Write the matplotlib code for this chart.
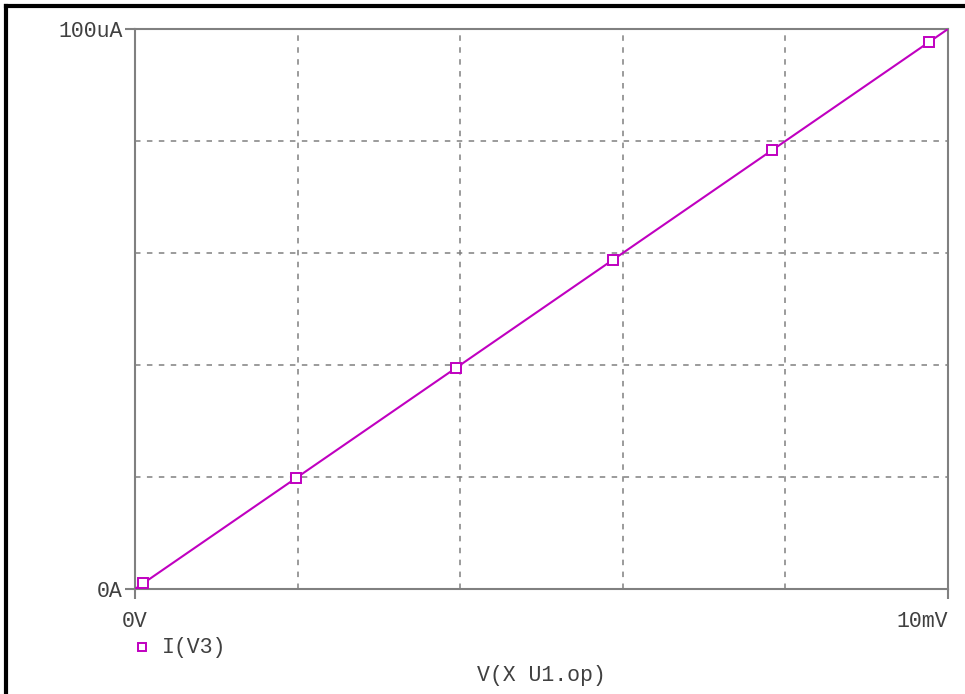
"""PSpice-style DC sweep: I(V3) against V(X U1.op)."""

import matplotlib

matplotlib.use("Agg")

import matplotlib.pyplot as plt
from matplotlib.lines import Line2D

# sweep trace (mV -> uA)
sweep_mv = [0.0, 10.0]
current_ua = [0.0, 100.0]

# marker positions drawn on the trace
marker_mv = [0.10, 1.98, 3.95, 5.88, 7.84, 9.77]
marker_ua = [1.0, 19.8, 39.5, 58.8, 78.4, 97.7]

x_ticks = [0, 10]
x_ticklabels = ["0V", "10mV"]
y_ticks = [0, 100]
y_ticklabels = ["0A", "100uA"]
x_grid = [2, 4, 6, 8]
y_grid = [20, 40, 60, 80]

trace_label = "I(V3)"
x_title = "V(X U1.op)"

TRACE = "#c000c0"
AXIS = "#808080"
TEXT = "#404040"
FONT = "Liberation Mono"

W, H = 965, 694


def main() -> None:
    fig = plt.figure(figsize=(W / 100, H / 100), dpi=100)
    ax = fig.add_axes([135 / W, 1 - 589 / H, 813 / W, 560 / H])

    ax.plot(sweep_mv, current_ua, color=TRACE, lw=1.5, zorder=3)
    ax.plot(marker_mv, marker_ua, ls="none", marker="s", ms=6.5,
            mfc="white", mec=TRACE, mew=1.4, zorder=4)

    ax.set_xlim(0, 10)
    ax.set_ylim(0, 100)

    ax.set_xticks(x_ticks)
    ax.set_xticklabels(x_ticklabels)
    ax.set_yticks(y_ticks)
    ax.set_yticklabels(y_ticklabels)
    ax.set_xticks(x_grid, minor=True)
    ax.set_yticks(y_grid, minor=True)
    ax.grid(which="minor", color=AXIS, ls=(0, (3.6, 4.2)), lw=1.1)
    ax.tick_params(which="minor", length=0)
    ax.tick_params(which="major", direction="out", length=7, width=1.5,
                   color=AXIS, labelcolor=TEXT, labelsize=15.5)
    ax.tick_params(axis="x", pad=9)
    ax.tick_params(axis="y", pad=2)
    for lab in ax.get_xticklabels() + ax.get_yticklabels():
        lab.set_fontfamily(FONT)
    ax.get_xticklabels()[-1].set_horizontalalignment("right")

    for sp in ax.spines.values():
        sp.set_color(AXIS)
        sp.set_linewidth(1.5)

    # legend entry under the plot
    fig.add_artist(Line2D([142 / W], [1 - 647 / H], marker="s", ms=6,
                          mfc="white", mec=TRACE, mew=1.4, ls="none"))
    fig.text(162 / W, 1 - 648 / H, trace_label, fontfamily=FONT,
             fontsize=15.5, color=TEXT, va="center", ha="left")
    fig.text(541 / W, 1 - 676 / H, x_title, fontfamily=FONT,
             fontsize=15.5, color=TEXT, va="center", ha="center")

    # window frame (left and top edge)
    fig.add_artist(Line2D([6 / W, 6 / W], [0, 1 - 6 / H], color="black", lw=3))
    fig.add_artist(Line2D([6 / W, 1], [1 - 6 / H, 1 - 6 / H], color="black", lw=3))

    fig.savefig("out.png", dpi=100)


if __name__ == "__main__":
    main()
